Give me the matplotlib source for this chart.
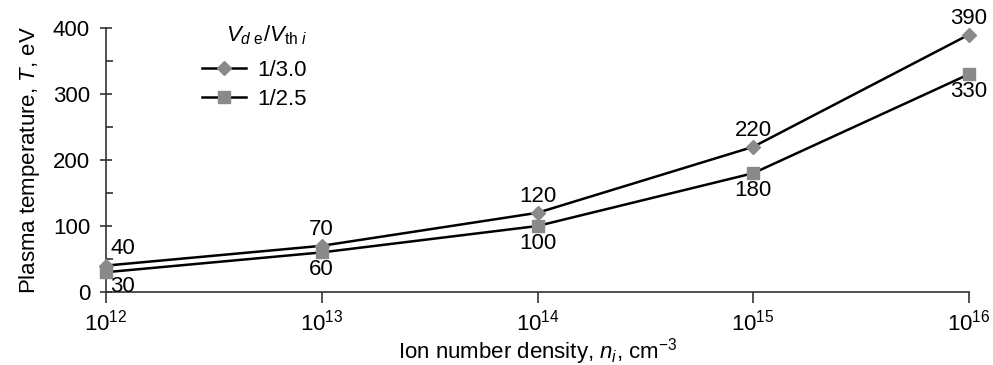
import matplotlib
matplotlib.use("Agg")
import matplotlib.pyplot as plt
from matplotlib.ticker import MultipleLocator, FixedLocator

exponents = [12, 13, 14, 15, 16]
tick_labels = [r"10$^{%d}$" % e for e in exponents]
series_names = ["1/3.0", "1/2.5"]
temp_30 = [40, 70, 120, 220, 390]
temp_25 = [30, 60, 100, 180, 330]

plt.rcParams['font.family'] = ['Liberation Sans', 'DejaVu Sans']
plt.rcParams['mathtext.fontset'] = 'custom'
plt.rcParams['mathtext.rm'] = 'Liberation Sans'
plt.rcParams['mathtext.it'] = 'Liberation Sans:italic'

W, H = 993, 365
fig = plt.figure(figsize=(W / 100, H / 100), dpi=100)
ax = fig.add_axes([106 / W, 1 - 292 / H, 863 / W, 264 / H])

mcol = '#8a8a8a'
ax.plot(exponents, temp_30, color='black', lw=1.8, marker='D', ms=7,
        mfc=mcol, mec=mcol, label=series_names[0], clip_on=False, zorder=3)
ax.plot(exponents, temp_25, color='black', lw=1.8, marker='s', ms=8,
        mfc=mcol, mec=mcol, label=series_names[1], clip_on=False, zorder=3)

fs = 16
for i, (x, y) in enumerate(zip(exponents, temp_30)):
    if i == 0:
        ax.annotate(str(y), (x, y), xytext=(3, 5), textcoords='offset points',
                    ha='left', va='bottom', fontsize=fs)
    else:
        ax.annotate(str(y), (x, y), xytext=(0, 4), textcoords='offset points',
                    ha='center', va='bottom', fontsize=fs)
for i, (x, y) in enumerate(zip(exponents, temp_25)):
    if i == 0:
        ax.annotate(str(y), (x, y), xytext=(3, -3), textcoords='offset points',
                    ha='left', va='top', fontsize=fs)
    else:
        ax.annotate(str(y), (x, y), xytext=(0, -5), textcoords='offset points',
                    ha='center', va='top', fontsize=fs)

ax.set_xlim(12, 16)
ax.set_ylim(0, 400)
ax.xaxis.set_major_locator(FixedLocator(exponents))
ax.set_xticklabels(tick_labels, fontsize=fs)
ax.yaxis.set_major_locator(MultipleLocator(100))
ax.yaxis.set_minor_locator(MultipleLocator(50))
ax.tick_params(axis='y', which='major', direction='inout', length=9, width=1.2,
               labelsize=fs, pad=7, colors='#333333', labelcolor='black')
ax.tick_params(axis='y', which='minor', direction='in', length=5, width=1.2, colors='#333333')
ax.tick_params(axis='x', which='major', direction='out', length=8, width=1.2,
               labelsize=fs, pad=5, colors='#333333', labelcolor='black')
for s in ['top', 'right']:
    ax.spines[s].set_visible(False)
for s in ['left', 'bottom']:
    ax.spines[s].set_linewidth(1.2)
    ax.spines[s].set_color('#333333')

ax.set_ylabel(r"Plasma temperature, $T$, eV", fontsize=fs, labelpad=8)
ax.set_xlabel(r"Ion number density, $n_i$, cm$^{-3}$", fontsize=fs, labelpad=0)

leg = ax.legend(loc='upper left', bbox_to_anchor=((202 - 106) / 863, (292 - 60) / 264),
                frameon=False, fontsize=fs, handlelength=2.0, handletextpad=0.5,
                labelspacing=0.35, borderpad=0, borderaxespad=0)
fig.text(226 / W, 1 - 35 / H, r"$V_{d\ \mathrm{e}}/V_{\mathrm{th}\ i}$",
         fontsize=fs, ha='left', va='center')

fig.savefig("out.png", dpi=100)
